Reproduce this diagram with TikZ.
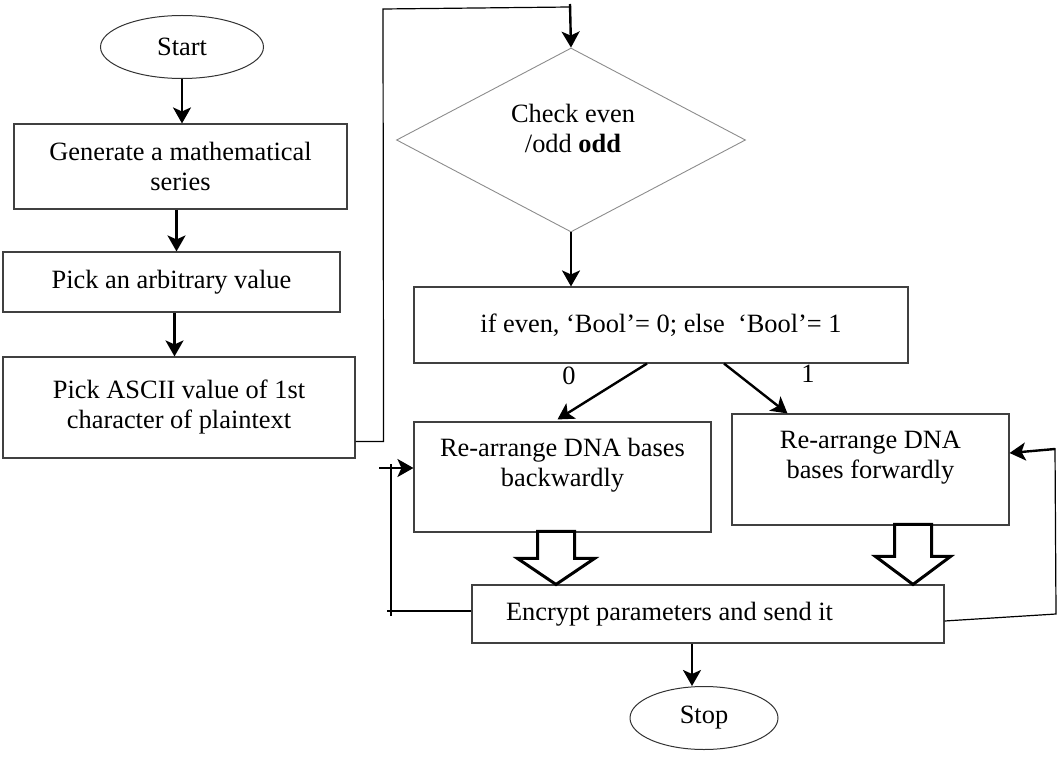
\documentclass[tikz,border=0pt]{standalone}
\usepackage{fontspec}
\setmainfont{Liberation Serif}
\usetikzlibrary{shapes.geometric,arrows.meta,calc}

\begin{document}
\begin{tikzpicture}[x=1pt,y=-1pt,
  font=\fontsize{26.4}{30}\selectfont,
  box/.style={draw=black!75,line width=1.1pt,rectangle,inner sep=0pt,align=center},
  oval/.style={draw=black!80,line width=1pt,ellipse,inner sep=0pt},
  decision/.style={draw=black!45,line width=0.9pt,diamond,inner sep=0pt},
  flow/.style={line width=2.4pt,-{Stealth[length=16pt,width=18pt,inset=4pt]}},
  wire/.style={line width=1.2pt},
  blockarr/.style={draw=black,line width=3pt,fill=white,line join=miter},
  lbl/.style={inner sep=0pt}]

\useasboundingbox (0,0) rectangle (1057,762);

% left column
\node[oval,minimum width=163pt,minimum height=63pt] (start) at (182,47) {Start};
\node[box,minimum width=333pt,minimum height=85pt] (gen) at (180.5,166.5)
  {Generate a mathematical\\series};
\node[box,minimum width=337pt,minimum height=60pt] (arb) at (171.5,282)
  {Pick an arbitrary value};
\node[box,minimum width=352pt,minimum height=101pt] (ascii) at (179,407.5)
  {Pick ASCII value of 1st\\character of plaintext};

% decision and branches
\node[decision,minimum width=349pt,minimum height=184pt] (dia) at (571,140) {};
\node[lbl,align=center] (diatext) at (573,128) {Check even\\/odd \textbf{odd}};
\node[box,minimum width=494pt,minimum height=76pt] (ifb) at (661,325)
  {if even, ‘Bool’= 0; else\ \ ‘Bool’= 1};
\node[box,minimum width=297pt,minimum height=110pt] (bk) at (562.5,477)
  {Re-arrange DNA bases\\backwardly\\\mbox{}};
\node[box,minimum width=277pt,minimum height=111pt] (fw) at (870.5,469.5)
  {Re-arrange DNA\\bases forwardly\\\mbox{}};
\node[box,text width=404pt,inner xsep=34pt,minimum height=58pt,align=flush left] (enc) at (708,614)
  {Encrypt parameters and send it};
\node[oval,minimum width=148pt,minimum height=63pt] (stop) at (704,718) {Stop};

\node[lbl] (zero) at (569,376) {0};
\node[lbl] (one) at (808,374) {1};

% helper points for the slightly offset vertical arrows
\coordinate (g1) at ($(gen.south)+(-4,0)$);
\coordinate (a1) at ($(arb.south)+(3,0)$);
\coordinate (e1) at ($(enc.south)+(-16,0)$);

% straight flow arrows
\draw[flow] (start.south) -- (start.south |- gen.north);
\draw[flow] (g1) -- (g1 |- arb.north);
\draw[flow] (a1) -- (a1 |- ascii.north);
\draw[flow] (dia.south) -- (dia.south |- ifb.north);
\draw[flow] ($(ifb.south)+(-14,0)$) -- ($(bk.north)+(-5,-2)$);
\draw[flow] ($(ifb.south)+(63,0)$) -- ($(fw.north)+(-83,0)$);
\draw[flow] (e1) -- (e1 |- stop.north);

% loop from the ASCII step up to the decision
\coordinate (upl) at (383,9);
\coordinate (upr) at (570,7);
\draw[wire] ($(ascii.south east)+(0,-17)$) -- ($(ascii.south east)+(28,-17)$) -- (upl) -- (upr);
\draw[flow] ($(upr)+(0,-3)$) -- (dia.north);

% hollow block arrows into the final step
\coordinate (a0) at ($(bk.south)+(-6.5,0)$);
\coordinate (tipA) at (a0 |- enc.north);
\draw[blockarr] (tipA) -- ++(-38.5,-26) -- ++(20,0) -- ++(0,-27) -- ++(37,0)
  -- ++(0,27) -- ++(20,0) -- cycle;
\coordinate (b0) at ($(fw.south)+(42.5,0)$);
\coordinate (tipB) at (b0 |- enc.north);
\draw[blockarr] (tipB) -- ++(-37.5,-28) -- ++(19,0) -- ++(0,-32) -- ++(37,0)
  -- ++(0,32) -- ++(19,0) -- cycle;

% feedback on the left
\coordinate (lbot) at (391,616);
\coordinate (ltop) at (391,464);
\draw[wire] ($(enc.west)+(0,-3)$) -- (387,611);
\draw[wire] (lbot) -- (ltop);
\draw[flow] (379,468) -- ($(bk.west)+(0,-9)$);

% feedback on the right
\coordinate (rbot) at (1056,614);
\coordinate (rtop) at (1055,448);
\draw[wire] ($(enc.east)+(0,7)$) -- (rbot) -- (rtop);
\draw[flow] ($(rtop)+(0,1)$) -- ($(fw.east)+(0,-16.5)$);

\end{tikzpicture}
\end{document}
